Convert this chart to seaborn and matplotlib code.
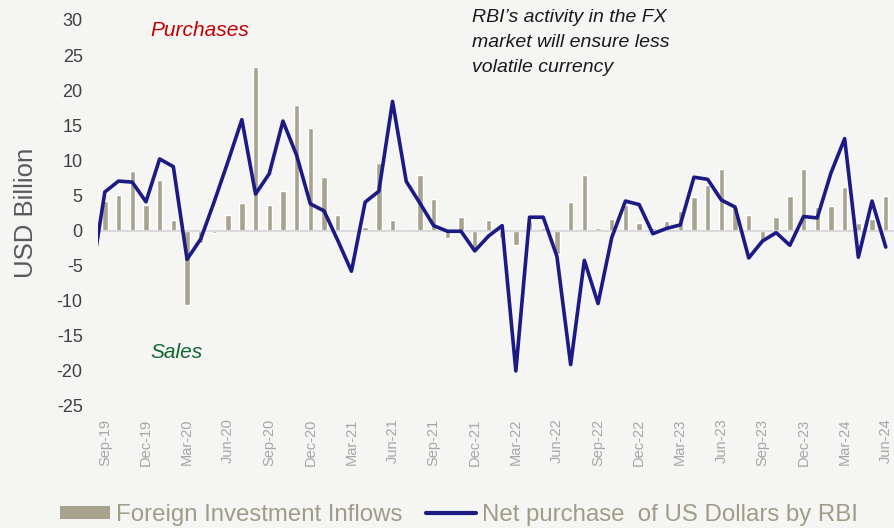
import numpy as np
import pandas as pd
import matplotlib
matplotlib.use("Agg")
import matplotlib.pyplot as plt
import seaborn as sns
from matplotlib import font_manager
from matplotlib.patches import Patch
from matplotlib.lines import Line2D

# Monthly data, Sep-19 .. Jun-24 (58 months), USD billion
fii_inflows = [4.2, 5.0, 8.5, 3.6, 7.2, 1.5, -10.6, -1.8, -0.4, 2.2,
               3.9, 23.3, 3.7, 5.6, 17.9, 14.6, 7.6, 2.2, 0.0, 0.5,
               9.6, 1.5, 0.0, 7.9, 4.5, -1.0, 1.9, -2.6, 1.5, -1.1,
               -2.0, 1.3, 0.4, -3.4, 4.1, 7.9, 0.3, 1.6, 3.7, 1.1,
               0.4, 1.3, 2.8, 4.8, 6.5, 8.8, 3.4, 2.2, -1.5, 1.9,
               4.9, 8.8, 3.3, 3.5, 6.2, 1.1, 1.7, 4.9]

# RBI net purchase, first value is Aug-19 (cut off at the left edge)
rbi_net = [-7.0,
           5.5, 7.05, 6.9, 4.1, 10.2, 9.1, -4.1, -1.2, 4.2, 9.9,
           15.8, 5.2, 8.1, 15.6, 10.7, 3.8, 2.8, -1.4, -5.8, 4.05,
           5.6, 18.4, 7.0, 3.9, 0.7, -0.1, -0.1, -2.9, -0.8, 0.7,
           -20.0, 1.9, 1.9, -3.7, -19.1, -4.25, -10.4, -1.0, 4.2, 3.7,
           -0.45, 0.3, 0.8, 7.6, 7.3, 4.35, 3.35, -3.9, -1.5, -0.3,
           -2.1, 2.0, 1.8, 8.2, 13.1, -3.8, 4.2, -2.35]

tick_labels = ["Sep-19", "Dec-19", "Mar-20", "Jun-20", "Sep-20", "Dec-20",
               "Mar-21", "Jun-21", "Sep-21", "Dec-21", "Mar-22", "Jun-22",
               "Sep-22", "Dec-22", "Mar-23", "Jun-23", "Sep-23", "Dec-23",
               "Mar-24", "Jun-24"]

n_months = len(fii_inflows)
bars = pd.DataFrame({"idx": np.arange(n_months), "fii": fii_inflows})
line = pd.DataFrame({"idx": np.arange(-1, n_months), "rbi": rbi_net})


def has_font(name):
    try:
        font_manager.findfont(name, fallback_to_default=False)
        return True
    except ValueError:
        return False


narrow = "Liberation Sans Narrow" if has_font("Liberation Sans Narrow") else "Liberation Sans"
legend_size = 20.5 if narrow == "Liberation Sans Narrow" else 17.3
ytick_size = 14 if narrow == "Liberation Sans Narrow" else 13

bg = "#F5F5F3"
bar_col = "#A8A38E"
line_col = "#1C1A85"
grey_line = "#D9D9D9"

sns.set_style("white")
plt.rcParams["font.family"] = [narrow, "DejaVu Sans"]
plt.rcParams["axes.unicode_minus"] = False

fig = plt.figure(figsize=(8.94, 5.28), dpi=100, facecolor=bg)
ax = fig.add_axes([98 / 894, 1 - 406 / 528, 794.6 / 894, 386 / 528])
ax.set_facecolor(bg)

sns.barplot(data=bars, x="idx", y="fii", native_scale=True, width=0.39,
            color=bar_col, saturation=1, errorbar=None, ax=ax, zorder=2)
sns.lineplot(data=line, x="idx", y="rbi", color=line_col, lw=2.6, ax=ax,
             zorder=4)

ax.set_xlim(-0.5, n_months - 0.5)
ax.set_ylim(-25, 30)
ax.set_yticks(range(-25, 31, 5))
ax.tick_params(axis="y", length=0, pad=11, labelsize=ytick_size,
               labelcolor="#404040")

# axis line through zero with small ticks between quarters
for s in ["top", "right", "left"]:
    ax.spines[s].set_visible(False)
ax.spines["bottom"].set_position(("data", 0))
ax.spines["bottom"].set_color(grey_line)
ax.spines["bottom"].set_linewidth(1.4)
ax.spines["bottom"].set_zorder(3)
ax.set_xticks(np.arange(-0.5, n_months, 3))
ax.tick_params(axis="x", length=5, width=1.3, color=grey_line,
               labelbottom=False)
ax.set_xlabel("")

# date labels along the bottom
sec = ax.secondary_xaxis("bottom")
sec.set_xticks(np.arange(0, n_months, 3), tick_labels)
sec.tick_params(length=0, pad=9, labelrotation=90, labelsize=10.5,
                labelcolor="#A6A6A6")
for lab in sec.get_xticklabels():
    lab.set_family("Liberation Sans")
sec.spines["bottom"].set_visible(False)

ax.set_ylabel("USD Billion", fontsize=18.5, color="#595959",
              family="Liberation Sans")
ax.yaxis.set_label_coords(-0.076, 0.5)

# annotations
fig.text(200 / 894, 1 - 31 / 528, "Purchases", color="#C00000", style="italic",
         fontsize=15, family="Liberation Sans", ha="center", va="center")
fig.text(177 / 894, 1 - 353 / 528, "Sales", color="#0E6630", style="italic",
         fontsize=15, family="Liberation Sans", ha="center", va="center")
fig.text(472 / 894, 1 - 9 / 528,
         "RBI\u2019s activity in the FX\nmarket will ensure less\nvolatile currency",
         color="#1A1A1A", style="italic", fontsize=14, family="Liberation Sans",
         ha="left", va="top", linespacing=1.6)

handles = [Patch(facecolor=bar_col, edgecolor="none"),
           Line2D([], [], color=line_col, lw=3)]
leg = fig.legend(handles, ["Foreign Investment Inflows",
                           "Net purchase  of US Dollars by RBI"],
                 loc="center left", bbox_to_anchor=(60 / 894, 1 - 515 / 528),
                 ncol=2, frameon=False, fontsize=legend_size, borderpad=0,
                 borderaxespad=0, handlelength=2.1, handleheight=0.5,
                 handletextpad=0.25, columnspacing=0.95)
for t in leg.get_texts():
    t.set_color("#A09C8A")

fig.savefig("out.png", dpi=100, facecolor=bg)
